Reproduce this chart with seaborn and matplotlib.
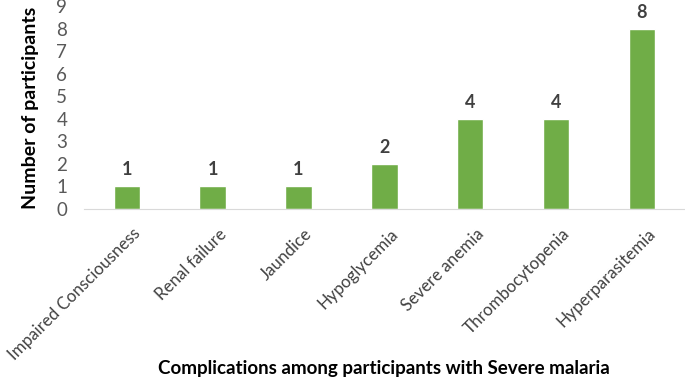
import pandas as pd
import seaborn as sns
import matplotlib.pyplot as plt
from matplotlib.transforms import ScaledTranslation

complications = ['Impaired Consciousness', 'Renal failure', 'Jaundice', 'Hypoglycemia',
                 'Severe anemia', 'Thrombocytopenia', 'Hyperparasitemia']
participants = [1, 1, 1, 2, 4, 4, 8]

df = pd.DataFrame({'complication': complications, 'participants': participants})

sns.set_style("white")
plt.rcParams['font.family'] = ['Lato', 'DejaVu Sans']

fig = plt.figure(figsize=(6.85, 3.89), dpi=100)
ax = fig.add_axes([0.1226, 0.4627, 0.877, 0.521])

sns.barplot(data=df, x='complication', y='participants', color='#70AD47',
            width=0.31, saturation=1, ax=ax)

# value labels above each bar
for c in ax.containers:
    ax.bar_label(c, padding=6, fontsize=13, fontweight='bold', color='#404040')

ax.set_ylim(0, 9)
ax.set_xlim(-0.5, 6.5)
ax.set_yticks(range(10))
ax.tick_params(axis='y', length=0, labelsize=13.5, labelcolor='#595959', pad=12)
ax.tick_params(axis='x', length=0, labelsize=12.2, labelcolor='#404040', pad=12)
plt.setp(ax.get_xticklabels(), rotation=45, ha='right', rotation_mode='anchor')
# nudge rotated labels a bit to the right, like the original
for lbl in ax.get_xticklabels():
    lbl.set_transform(lbl.get_transform() + ScaledTranslation(4/72, 0, fig.dpi_scale_trans))

ax.set_xlabel('Complications among participants with Severe malaria',
              fontsize=13.5, fontweight='bold', color='black')
ax.xaxis.set_label_coords(0.5, -0.745)
ax.set_ylabel('Number of participants', fontsize=14, fontweight='bold', color='black')
ax.yaxis.set_label_coords(-0.075, 0.5)

sns.despine(left=True, top=True, right=True)
ax.spines['bottom'].set_color('#D9D9D9')

fig.savefig('out.png', dpi=100)
